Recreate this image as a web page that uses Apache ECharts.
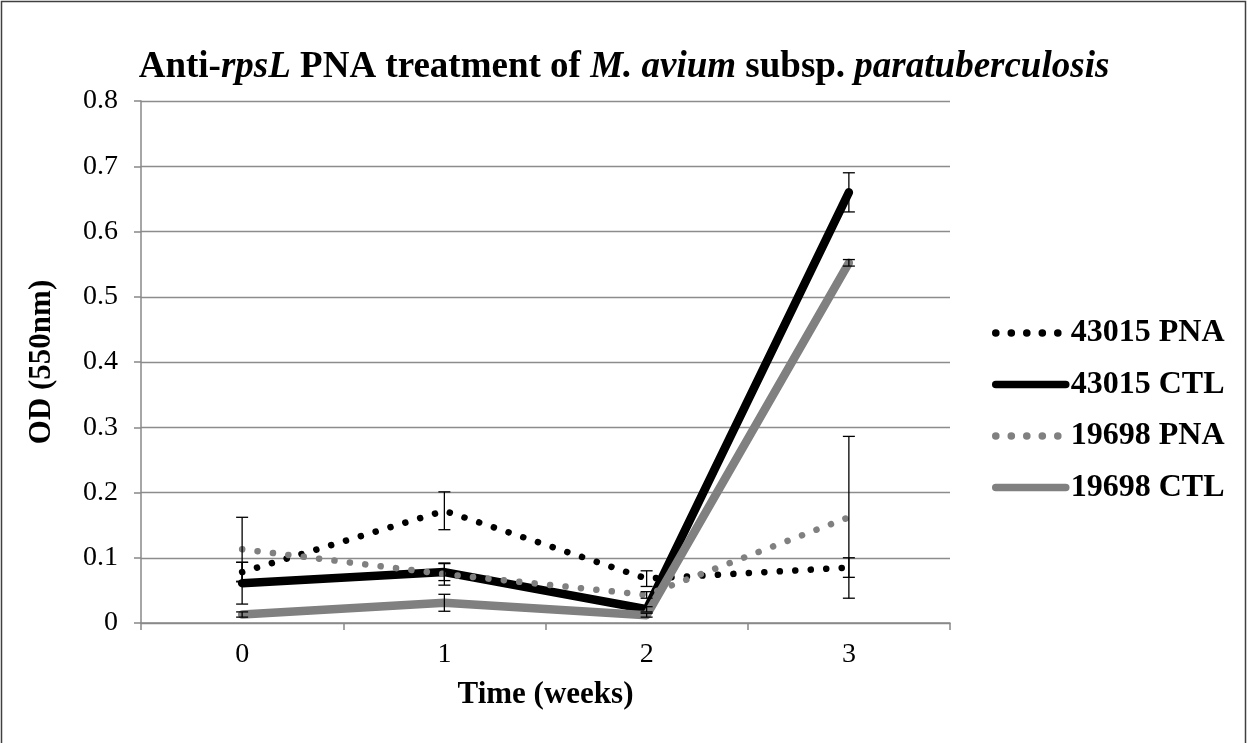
<!DOCTYPE html>
<html>
<head>
<meta charset="utf-8">
<script src="https://cdn.jsdelivr.net/npm/echarts@6/dist/echarts.min.js"></script>
<style>
  html, body { margin: 0; padding: 0; background: #fff; }
  #chart { width: 1248px; height: 743px; }
</style>
</head>
<body>
<div id="chart"></div>
<script>
// Time points (weeks)
const categories = ['0', '1', '2', '3'];

// Mean OD (550 nm) per strain / treatment
const pna43015 = [0.078, 0.172, 0.068, 0.085];
const ctl43015 = [0.061, 0.078, 0.021, 0.660];
const pna19698 = [0.113, 0.075, 0.043, 0.162];
const ctl19698 = [0.013, 0.031, 0.012, 0.552];

// Error bar half-ranges (±)
const errPna43015 = [0.015, 0.029, 0.012, 0.015];
const errCtl43015 = [0.032, 0.013, 0.004, 0.030];
const errPna19698 = [0.049, 0.017, 0.005, 0.124];
const errCtl19698 = [0.004, 0.013, 0.003, 0.005];

const seriesNames = ['43015 PNA', '43015 CTL', '19698 PNA', '19698 CTL'];

const yTicks = { min: 0, max: 0.8, interval: 0.1 };

const SERIF = "'Liberation Serif', 'Times New Roman', serif";
const GRAY = '#808080';

const dotted = [0.1, 15.4];

function lineSeries(name, data, color, width, dash) {
  return {
    name: name,
    type: 'line',
    data: data,
    symbol: 'none',
    showSymbol: false,
    z: 2,
    lineStyle: { color: color, width: width, type: dash || 'solid', cap: 'round', join: 'round' },
    itemStyle: { color: color }
  };
}

function errorSeries(values, errs) {
  const d = values.map((v, i) => [i, v, errs[i]]);
  return {
    type: 'custom',
    data: d,
    z: 5,
    silent: true,
    renderItem: function (params, api) {
      const x = api.value(0), v = api.value(1), e = api.value(2);
      const hi = api.coord([x, v + e]);
      const lo = api.coord([x, v - e]);
      const hw = 6;
      const style = { stroke: '#000', lineWidth: 1.3, fill: null };
      return {
        type: 'group',
        children: [
          { type: 'line', shape: { x1: hi[0], y1: hi[1], x2: lo[0], y2: lo[1] }, style: style },
          { type: 'line', shape: { x1: hi[0] - hw, y1: hi[1], x2: hi[0] + hw, y2: hi[1] }, style: style },
          { type: 'line', shape: { x1: lo[0] - hw, y1: lo[1], x2: lo[0] + hw, y2: lo[1] }, style: style }
        ]
      };
    }
  };
}

const chart = echarts.init(document.getElementById('chart'), null, { renderer: 'canvas' });

chart.setOption({
  backgroundColor: '#ffffff',
  animation: false,
  title: {
    text: '{b|Anti-}{i|rpsL}{b| PNA treatment of }{i|M. avium}{b| subsp. }{i|paratuberculosis}',
    left: 'center',
    top: 44,
    textStyle: {
      rich: {
        b: { fontFamily: SERIF, fontSize: 37, fontWeight: 'bold', color: '#000' },
        i: { fontFamily: SERIF, fontSize: 37, fontWeight: 'bold', fontStyle: 'italic', color: '#000' }
      }
    }
  },
  legend: {
    orient: 'vertical',
    left: 992,
    top: 317,
    padding: 0,
    itemWidth: 70,
    itemHeight: 14,
    itemGap: 19.5,
    itemStyle: { opacity: 0 },
    lineStyle: { width: 7.5, cap: 'round' },
    textStyle: { fontFamily: SERIF, fontSize: 32, fontWeight: 'bold', color: '#000', lineHeight: 31 },
    data: seriesNames
  },
  grid: { left: 141, right: 298, top: 101, bottom: 120 },
  xAxis: {
    type: 'category',
    data: categories,
    boundaryGap: true,
    name: 'Time (weeks)',
    nameLocation: 'middle',
    nameGap: 56,
    nameTextStyle: { fontFamily: SERIF, fontSize: 31, fontWeight: 'bold', color: '#000' },
    axisLine: { lineStyle: { color: '#888', width: 1.5 } },
    axisTick: { show: true, length: 7, lineStyle: { color: '#888', width: 1.5 } },
    axisLabel: { fontFamily: SERIF, fontSize: 28, color: '#000', margin: 18 }
  },
  yAxis: {
    type: 'value',
    min: yTicks.min,
    max: yTicks.max,
    interval: yTicks.interval,
    name: 'OD (550nm)',
    nameLocation: 'middle',
    nameGap: 84,
    nameTextStyle: { fontFamily: SERIF, fontSize: 31, fontWeight: 'bold', color: '#000' },
    axisLine: { show: true, lineStyle: { color: '#888', width: 1.5 } },
    axisTick: { show: true, length: 7, lineStyle: { color: '#888', width: 1.5 } },
    splitLine: { show: true, lineStyle: { color: '#8c8c8c', width: 1.3 } },
    axisLabel: {
      fontFamily: SERIF, fontSize: 28, color: '#000', margin: 23,
      formatter: v => (v === 0 ? '0' : v.toFixed(1))
    }
  },
  graphic: [
    {
      type: 'rect',
      shape: { x: 1.5, y: 1.5, width: 1244, height: 760 },
      style: { fill: null, stroke: '#404040', lineWidth: 1.5 },
      silent: true
    }
  ],
  series: [
    lineSeries(seriesNames[0], pna43015, '#000', 6.5, dotted),
    lineSeries(seriesNames[1], ctl43015, '#000', 8.5),
    lineSeries(seriesNames[2], pna19698, GRAY, 6.5, dotted),
    lineSeries(seriesNames[3], ctl19698, GRAY, 8.5),
    errorSeries(pna43015, errPna43015),
    errorSeries(ctl43015, errCtl43015),
    errorSeries(pna19698, errPna19698),
    errorSeries(ctl19698, errCtl19698)
  ]
});
</script>
</body>
</html>
